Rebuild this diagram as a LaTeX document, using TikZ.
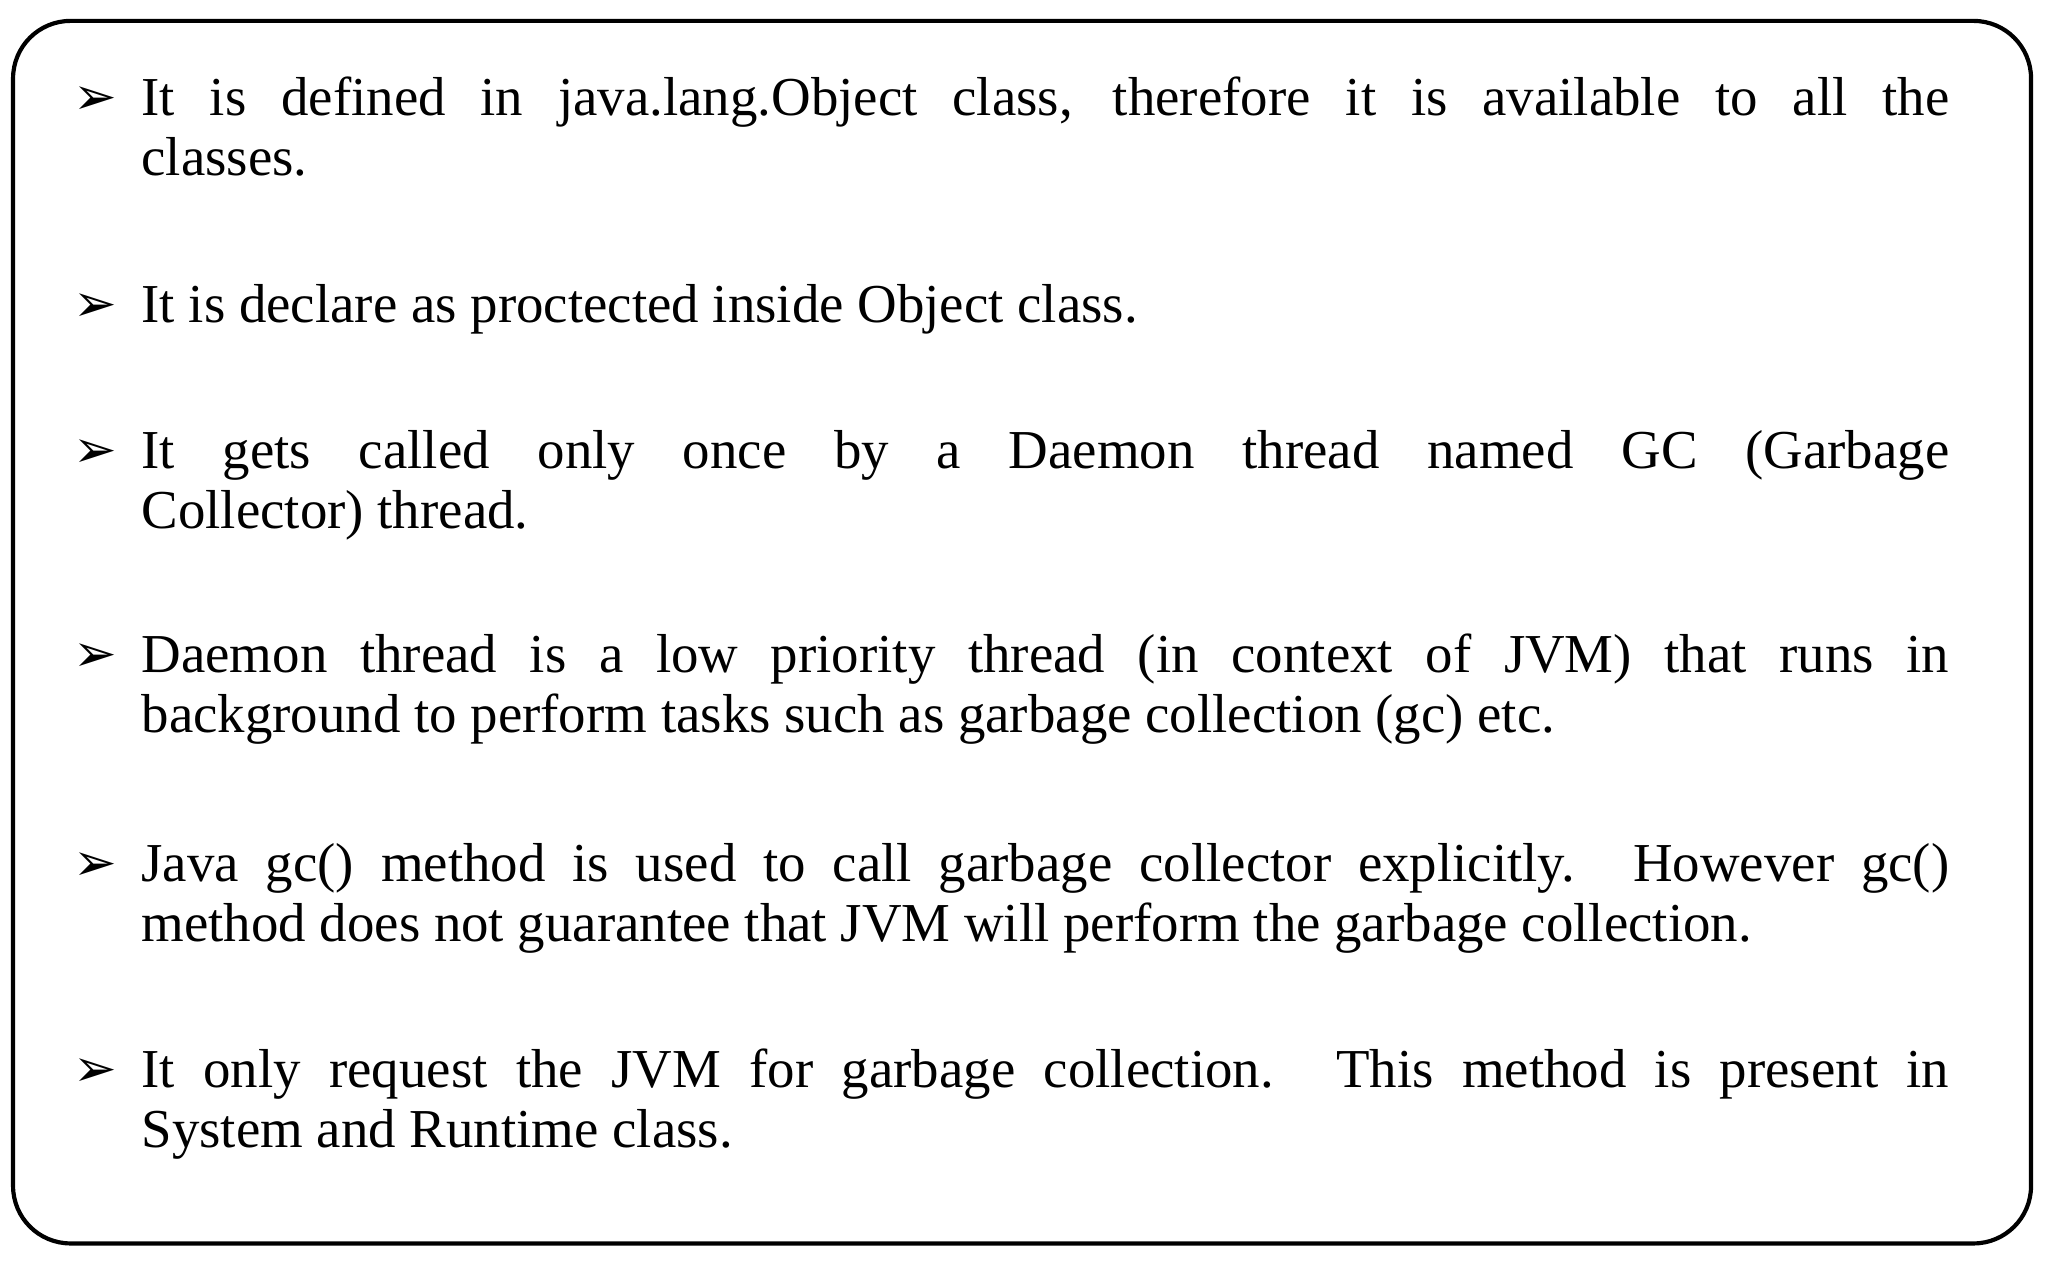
\documentclass[tikz,border=0pt]{standalone}
\usepackage{fontspec}
\setmainfont{Liberation Serif}
\newfontfamily\sym{DejaVu Sans}
\begin{document}
\begin{tikzpicture}[x=0.5pt,y=-0.5pt,
  txt/.style={anchor=north west,inner sep=0pt,text width=692pt,align=justify,font=\fontsize{21}{23}\selectfont},
  bul/.style={anchor=base,inner sep=0pt,font=\sym\bfseries\fontsize{20}{22}\selectfont}]
\useasboundingbox (0,0) rectangle (1568,974);
\draw[line width=1.6pt,rounded corners=22pt] (10,16) rectangle (1555,952);
\foreach \i/\y/\t in {
 1/88/{It is defined in java.lang.Object class, therefore it is available to all the\linebreak classes.},
 2/246/{It is declare as proctected inside Object class.},
 3/358/{It gets called only once by a Daemon thread named GC (Garbage\linebreak Collector) thread.},
 4/514/{Daemon thread is a low priority thread (in context of JVM) that runs in\linebreak background to perform tasks such as garbage collection (gc) etc.},
 5/674/{Java gc() method is used to call garbage collector explicitly. However gc()\linebreak method does not guarantee that JVM will perform the garbage collection.},
 6/832/{It only request the JVM for garbage collection. This method is present in\linebreak System and Runtime class.}}
{
 \node[bul] (b\i) at (73,\y) {➢};
 \node[txt] (t\i) at (108,\y-32) {\strut\t};
}
\end{tikzpicture}
\end{document}
